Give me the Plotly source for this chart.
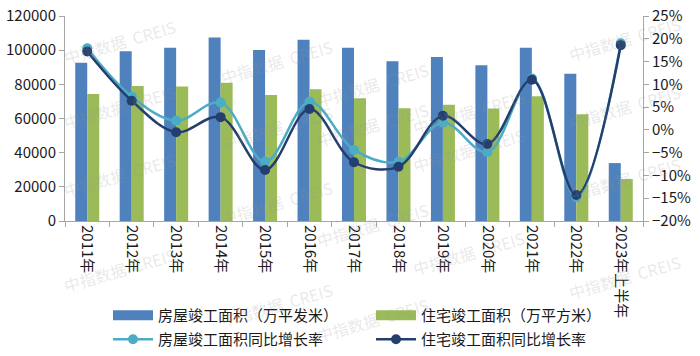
import plotly.graph_objects as go

categories = ["2011年", "2012年", "2013年", "2014年", "2015年", "2016年", "2017年",
              "2018年", "2019年", "2020年", "2021年", "2022年", "2023年上半年"]
building_area = [92620, 99425, 101435, 107459, 100039, 106128, 101486,
                 93550, 95942, 91218, 101412, 86222, 33904]
housing_area = [74319, 79043, 78741, 80868, 73777, 77185, 71815,
                66016, 68011, 65910, 73016, 62539, 24538]
building_growth = [0.179, 0.073, 0.020, 0.060, -0.070, 0.062, -0.044,
                   -0.070, 0.016, -0.049, 0.113, -0.148, 0.190]
housing_growth = [0.172, 0.064, -0.005, 0.028, -0.088, 0.046, -0.071,
                  -0.081, 0.031, -0.031, 0.110, -0.143, 0.186]

names = ["房屋竣工面积（万平发米）", "住宅竣工面积（万平方米）",
         "房屋竣工面积同比增长率", "住宅竣工面积同比增长率"]
colors = ["#4F81BD", "#9BBB59", "#4BACC6", "#243F6E"]

font_family = "Noto Sans CJK SC, Noto Sans, sans-serif"

fig = go.Figure()
fig.add_trace(go.Bar(x=categories, y=building_area, name=names[0], showlegend=False,
                     marker=dict(color=colors[0], line=dict(width=0))))
fig.add_trace(go.Bar(x=categories, y=housing_area, name=names[1], showlegend=False,
                     marker=dict(color=colors[1], line=dict(width=0))))
# legend-only swatches for the bars (wide rectangles as in the reference)
for i in range(2):
    fig.add_trace(go.Scatter(x=[None], y=[None], name=names[i], mode="lines",
                             line=dict(color=colors[i], width=10), legend="legend"))
fig.add_trace(go.Scatter(x=categories, y=building_growth, name=names[2], yaxis="y2",
                         mode="lines+markers", line=dict(color=colors[2], width=2.5, shape="spline", smoothing=1),
                         marker=dict(size=10, color=colors[2]), legend="legend2"))
fig.add_trace(go.Scatter(x=categories, y=housing_growth, name=names[3], yaxis="y2",
                         mode="lines+markers", line=dict(color=colors[3], width=2.5, shape="spline", smoothing=1),
                         marker=dict(size=10, color=colors[3]), legend="legend2"))

pl, pr, pt, pb = 65, 643, 16, 221

# watermarks (centre pixel positions in the 700x356 picture)
wm_cols = {58: [12, 107, 205, 300], 215: [32, 128, 233, 335], 372: [55, 155, 255, 350],
           530: [82, 180, 283], 686: [9, 107, 209, 307]}
annotations = []
for x, ys in wm_cols.items():
    for y in ys:
        annotations.append(dict(x=(x - pl) / (pr - pl), y=(pb - y) / (pb - pt),
                                xref="paper", yref="paper", text="中指数据  CREIS",
                                showarrow=False, textangle=-16,
                                font=dict(size=16, color="rgba(150,150,150,0.22)", family=font_family)))

legend_common = dict(orientation="h", xanchor="left", yanchor="top", yref="paper",
                     entrywidth=208, font=dict(size=15, color="#1a1a1a"),
                     tracegroupgap=0, itemwidth=40, bgcolor="rgba(0,0,0,0)")

fig.update_layout(
    width=700, height=356,
    margin=dict(l=pl, r=700 - pr, t=pt, b=356 - pb, autoexpand=False),
    paper_bgcolor="white", plot_bgcolor="white",
    font=dict(family=font_family, size=15, color="#1a1a1a"),
    barmode="group", bargap=0.46, bargroupgap=0,
    showlegend=True,
    legend=dict(x=(108 - pl) / (pr - pl), y=(pb - 299) / (pb - pt), **legend_common),
    legend2=dict(x=(108 - pl) / (pr - pl), y=(pb - 323) / (pb - pt), **legend_common),
    xaxis=dict(type="category", range=[-0.5, len(categories) - 0.5], tickangle=90,
               showline=True, linecolor="#A6A6A6",
               ticks="outside", ticklen=5, tickcolor="#A6A6A6", tickson="boundaries",
               tickfont=dict(size=15, color="#1a1a1a")),
    yaxis=dict(range=[0, 120000], dtick=20000, showgrid=False, showline=True,
               linecolor="#A6A6A6", ticks="outside", ticklen=5, tickcolor="#A6A6A6",
               zeroline=False, tickformat="d"),
    yaxis2=dict(range=[-0.2, 0.25], dtick=0.05, overlaying="y", side="right",
                showgrid=False, showline=True, linecolor="#A6A6A6", ticks="outside",
                ticklen=5, tickcolor="#A6A6A6", tickformat=".0%", zeroline=False),
    annotations=annotations,
)

fig.write_html("out.html", config={"displayModeBar": False},
               post_script="document.body.style.margin='0';")
